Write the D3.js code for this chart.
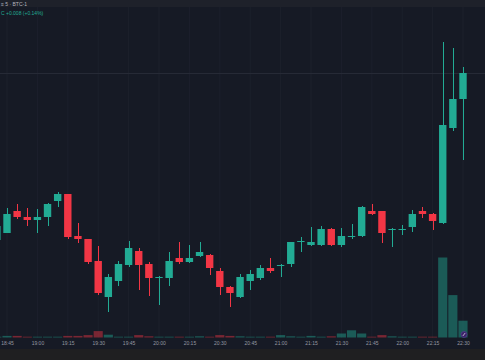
<!DOCTYPE html>
<meta charset="utf-8" />
<style>
  body { margin: 0; background: #161a25; overflow: hidden; }
  svg { display: block; }
  .tick text { font-family: "Liberation Sans", sans-serif; }
</style>
<body>
<script src="https://d3js.org/d3.v7.min.js"></script>
<script>
  // 5-minute candles
  var times = ['18:40','18:45','18:50','18:55','19:00','19:05','19:10','19:15','19:20','19:25',
    '19:30','19:35','19:40','19:45','19:50','19:55','20:00','20:05','20:10','20:15',
    '20:20','20:25','20:30','20:35','20:40','20:45','20:50','20:55','21:00','21:05',
    '21:10','21:15','21:20','21:25','21:30','21:35','21:40','21:45','21:50','21:55',
    '22:00','22:05','22:10','22:15','22:20','22:25','22:30'];
  var opens = [5.690,5.6935,5.7045,5.7015,5.700,5.7015,5.7095,5.713,5.692,5.6905,
    5.6795,5.6615,5.6695,5.6775,5.6845,5.678,5.671,5.671,5.681,5.679,
    5.682,5.6825,5.6745,5.6665,5.6615,5.6695,5.671,5.676,5.6775,5.678,
    5.6895,5.6875,5.6875,5.6955,5.6875,5.692,5.692,5.7045,5.7045,5.695,
    5.6955,5.6965,5.7045,5.703,5.6985,5.746,5.7605];
  var highs = [5.699,5.706,5.708,5.706,5.7055,5.7085,5.714,5.713,5.6985,5.6905,
    5.687,5.673,5.6795,5.6895,5.686,5.679,5.672,5.684,5.689,5.6875,
    5.689,5.683,5.676,5.667,5.673,5.675,5.6775,5.681,5.678,5.689,
    5.6915,5.6965,5.697,5.696,5.696,5.698,5.707,5.708,5.7045,5.696,
    5.6975,5.705,5.7065,5.7035,5.789,5.786,5.7765];
  var lows = [5.688,5.6935,5.7005,5.697,5.6935,5.697,5.7065,5.6905,5.6885,5.678,
    5.6625,5.654,5.667,5.6765,5.665,5.662,5.6575,5.667,5.678,5.6785,
    5.6815,5.6725,5.6625,5.6565,5.661,5.665,5.670,5.6735,5.6715,5.6765,
    5.684,5.687,5.687,5.687,5.6865,5.6905,5.6915,5.7025,5.6885,5.6865,
    5.6925,5.694,5.701,5.695,5.698,5.7445,5.730];
  var closes = [5.697,5.703,5.7015,5.700,5.7015,5.708,5.713,5.6915,5.6905,5.679,
    5.6635,5.6715,5.678,5.686,5.6775,5.671,5.6715,5.6795,5.679,5.681,
    5.684,5.676,5.6665,5.6635,5.6715,5.673,5.676,5.6745,5.6775,5.689,
    5.6895,5.689,5.6955,5.6875,5.692,5.692,5.7065,5.703,5.6935,5.6955,
    5.6955,5.703,5.703,5.6995,5.7475,5.7605,5.7735];
  var volumes = [1,2,2,1,1,1,1,2,2,3,
    8,3.5,1,1,3,1.5,1,1,1,1,
    1.5,1,3,2,1.5,1,1,1,3,1.5,
    1,2,1,1.5,5,9,5,1,3,1.5,
    1,1,1,1,100,53,21];
  var tickLabels = ['18:45','19:00','19:15','19:30','19:45','20:00','20:15','20:30',
    '20:45','21:00','21:15','21:30','21:45','22:00','22:15','22:30'];

  var width = 485, height = 360;
  var up = '#22ab94', down = '#f23645';

  function toDate(s) {
    var p = s.split(':');
    return new Date(2024, 0, 5, +p[0], +p[1]);
  }

  var data = times.map(function (t, i) {
    return { t: toDate(t), o: opens[i], h: highs[i], l: lows[i], c: closes[i], v: volumes[i] };
  });

  var x = d3.scaleTime()
    .domain([toDate('18:45'), toDate('22:30')])
    .range([7, 463]);
  var y = d3.scaleLinear().domain([5.81, 5.66]).range([0, 300]);
  var yv = d3.scaleLinear().domain([0, 100]).range([337.5, 257.5]);
  var step = x(toDate('18:50')) - x(toDate('18:45'));
  var bodyW = 7.4;

  var svg = d3.select('body').append('svg')
    .attr('width', width).attr('height', height);

  svg.append('rect').attr('width', width).attr('height', height).attr('fill', '#161a25');
  // top strip and bottom strip
  svg.append('rect').attr('width', width).attr('height', 7).attr('fill', '#1e212a');
  svg.append('rect').attr('y', 349).attr('width', width).attr('height', 11).attr('fill', '#1f1f21');

  var tickDates = tickLabels.map(toDate);

  // vertical grid
  svg.append('g').selectAll('line').data(tickDates).enter().append('line')
    .attr('x1', function (d) { return x(d); }).attr('x2', function (d) { return x(d); })
    .attr('y1', 7).attr('y2', 338)
    .attr('stroke', '#1c202c').attr('stroke-width', 1);

  // last price line
  var last = data[data.length - 1];
  svg.append('line')
    .attr('x1', 0).attr('x2', width)
    .attr('y1', Math.round(y(last.c)) + 0.5).attr('y2', Math.round(y(last.c)) + 0.5)
    .attr('stroke', '#262a36').attr('stroke-width', 1);

  // volume
  svg.append('g').selectAll('rect').data(data).enter().append('rect')
    .attr('x', function (d) { return x(d.t) - (step - 1) / 2; })
    .attr('width', step - 1)
    .attr('y', function (d) { return yv(d.v); })
    .attr('height', function (d) { return yv(0) - yv(d.v); })
    .attr('fill', function (d) { return d.c >= d.o ? up : down; })
    .attr('fill-opacity', 0.45);

  // candles
  var cg = svg.append('g').selectAll('g').data(data).enter().append('g');
  cg.append('line')
    .attr('x1', function (d) { return Math.round(x(d.t)) + 0.5; })
    .attr('x2', function (d) { return Math.round(x(d.t)) + 0.5; })
    .attr('y1', function (d) { return y(d.h); })
    .attr('y2', function (d) { return y(d.l); })
    .attr('stroke', function (d) { return d.c >= d.o ? up : down; })
    .attr('stroke-width', 1);
  cg.append('rect')
    .attr('x', function (d) { return x(d.t) - bodyW / 2; })
    .attr('width', bodyW)
    .attr('y', function (d) { return y(Math.max(d.o, d.c)); })
    .attr('height', function (d) { return Math.max(1, Math.abs(y(d.o) - y(d.c))); })
    .attr('fill', function (d) { return d.c >= d.o ? up : down; });

  // time axis
  var axis = d3.axisBottom(x)
    .tickValues(tickDates)
    .tickFormat(d3.timeFormat('%H:%M'))
    .tickSize(0).tickPadding(0);
  var ax = svg.append('g').attr('transform', 'translate(0,341)').call(axis);
  ax.select('.domain').remove();
  ax.selectAll('text').attr('fill', '#9598a1').attr('font-size', 5).attr('dy', '0.71em');

  // small logo in the volume pane
  svg.append('circle').attr('cx', 464).attr('cy', 334.5).attr('r', 3)
    .attr('fill', '#3b2466').attr('stroke', '#5b3a9a').attr('stroke-width', 0.6);
  svg.append('path').attr('d', 'M462.8,336 L465.2,333').attr('stroke', '#d8d0ee').attr('stroke-width', 0.8);

  // legend
  svg.append('text').attr('x', 1).attr('y', 5.5)
    .attr('font-family', 'Liberation Sans, sans-serif').attr('font-size', 5)
    .attr('fill', '#b2b5be').text('≡ 5 · BTC-1');
  svg.append('text').attr('x', 1).attr('y', 15)
    .attr('font-family', 'Liberation Sans, sans-serif').attr('font-size', 5)
    .attr('fill', up).text('C  +0.008 (+0.14%)');
</script>
</body>
